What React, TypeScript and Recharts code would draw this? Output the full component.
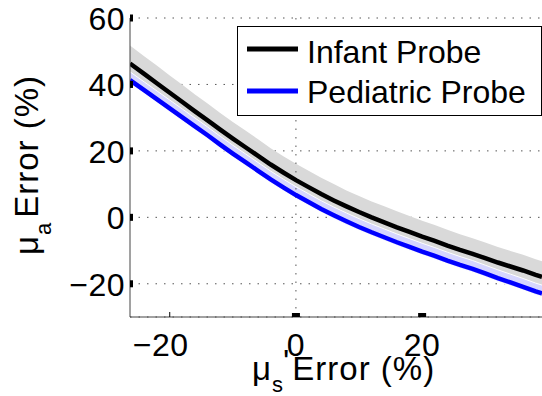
import React from 'react';
import { ComposedChart, Line, Area, XAxis, YAxis, CartesianGrid, Legend, ReferenceLine } from 'recharts';

// μs' error (%) sample positions
const muSError = [
  -26.3, -24, -22, -20, -18, -16, -14, -12, -10, -8, -6, -4, -2, 0, 2, 4, 6, 8,
  10, 12, 14, 16, 18, 20, 22, 24, 26, 28, 30, 32, 34, 36, 38, 39,
];

// μa error (%) for the infant probe: mean and spread
const infantMean = [
  46.3, 43.1, 40.3, 37.5, 34.7, 31.9, 29.2, 26.4, 23.7, 21.1, 18.5, 15.9, 13.5, 11.2, 9.1, 7.0, 5.1, 3.3,
  1.6, 0.0, -1.5, -3.0, -4.4, -5.8, -7.1, -8.5, -9.8, -11.0, -12.3, -13.6, -14.8, -16.0, -17.3, -17.9,
];
const infantHi = [
  51.7, 48.4, 45.6, 42.7, 39.9, 37.0, 34.3, 31.4, 28.7, 26.1, 23.5, 20.8, 18.4, 16.1, 14.0, 11.9, 10.0, 8.1,
  6.4, 4.8, 3.3, 1.8, 0.4, -1.0, -2.3, -3.7, -5.1, -6.3, -7.6, -8.9, -10.1, -11.3, -12.6, -13.2,
];
const infantLo = [
  43.7, 40.5, 37.7, 34.9, 32.1, 29.3, 26.6, 23.8, 21.1, 18.5, 15.9, 13.3, 10.9, 8.6, 6.5, 4.4, 2.5, 0.7,
  -1.0, -2.6, -4.1, -5.6, -7.0, -8.4, -9.7, -11.1, -12.4, -13.6, -14.9, -16.2, -17.4, -18.6, -19.9, -20.5,
];

// μa error (%) for the pediatric probe: mean and spread
const pediatricMean = [
  41.3, 38.2, 35.5, 32.8, 30.1, 27.4, 24.7, 21.9, 19.2, 16.6, 14.0, 11.4, 9.0, 6.7, 4.6, 2.5, 0.6, -1.2,
  -2.9, -4.5, -6.0, -7.5, -8.9, -10.3, -11.6, -13.0, -14.3, -15.5, -16.9, -18.3, -19.6, -20.9, -22.3, -22.9,
];
const pediatricHi = [
  43.8, 40.7, 38.0, 35.3, 32.6, 29.9, 27.2, 24.4, 21.7, 19.1, 16.5, 13.9, 11.5, 9.2, 7.1, 5.0, 3.1, 1.3,
  -0.4, -2.0, -3.5, -5.0, -6.4, -7.8, -9.1, -10.5, -11.8, -13.0, -14.4, -15.8, -17.1, -18.4, -19.8, -20.4,
];
const pediatricLo = [
  40.3, 37.2, 34.5, 31.8, 29.1, 26.4, 23.7, 20.9, 18.2, 15.6, 13.0, 10.4, 8.0, 5.7, 3.6, 1.5, -0.4, -2.2,
  -3.9, -5.5, -7.0, -8.5, -9.9, -11.3, -12.6, -14.0, -15.3, -16.5, -17.9, -19.3, -20.6, -21.9, -23.3, -23.9,
];

const xTicks = [-20, 0, 20];
const yTicks = [-20, 0, 20, 40, 60];

const data = muSError.map((x, i) => ({
  x,
  infant: infantMean[i],
  infantBand: [infantLo[i], infantHi[i]],
  pediatric: pediatricMean[i],
  pediatricBand: [pediatricLo[i], pediatricHi[i]],
}));

const FONT = "'Liberation Sans', Arial, Helvetica, sans-serif";
const textStyle = { fontFamily: FONT, fontSize: 32, letterSpacing: 0.5, fill: '#000' };
const labelStyle = { fontFamily: FONT, fontSize: 33, letterSpacing: 1, fill: '#000' };
const gridDots = { stroke: '#555', strokeDasharray: '1.5 7' };

const fmt = (v: number) => (v < 0 ? `\u2212${Math.abs(v)}` : `${v}`);

const YTick = (props: any) => {
  const { x, y, payload } = props;
  return (
    <g>
      <rect x={x + 5} y={y - 3.5} width={3} height={7} fill="#000" />
      <text x={x} y={y + 12} textAnchor="end" style={textStyle}>
        {fmt(payload.value)}
      </text>
    </g>
  );
};

const XTick = (props: any) => {
  const { x, y, payload } = props;
  const v = payload.value;
  return (
    <g>
      {v < 0 ? (
        <line x1={x} x2={x} y1={y - 5} y2={y} stroke="#000" strokeWidth={1} />
      ) : (
        <rect x={x - 4} y={y - 4} width={8} height={4} fill="#000" />
      )}
      <text x={v < 0 ? x - 9 : x} y={y + 39} textAnchor="middle" style={textStyle}>
        {fmt(v)}
      </text>
    </g>
  );
};

const XLabel = (props: any) => {
  const { viewBox } = props;
  const x0 = viewBox.x + 122;
  const y0 = viewBox.y + 63;
  return (
    <text x={x0} y={y0} style={labelStyle}>
      <tspan>μ</tspan>
      <tspan fontSize={22} dy={12}>s</tspan>
      <tspan dy={-19} dx={-1}>'</tspan>
      <tspan dy={7} dx={2}>Error (%)</tspan>
    </text>
  );
};

const YLabel = (props: any) => {
  const { viewBox } = props;
  const x0 = viewBox.x + 38;
  const y0 = viewBox.y + 237;
  return (
    <text x={x0} y={y0} transform={`rotate(-90 ${x0} ${y0})`} style={labelStyle}>
      <tspan>μ</tspan>
      <tspan fontSize={22} dy={13}>a</tspan>
      <tspan dy={-13} dx={4}>Error (%)</tspan>
    </text>
  );
};

const ProbeLegend = (props: any) => {
  const items = (props.payload || []).filter((p: any) => p.type !== 'none');
  return (
    <svg width={305} height={90} style={{ display: 'block' }}>
      <rect x={0.5} y={0.5} width={304} height={89} fill="#fff" stroke="#000" strokeWidth={1} />
      {items.map((item: any, i: number) => (
        <g key={item.value}>
          <line x1={10} x2={61} y1={23 + i * 42} y2={23 + i * 42} stroke={item.color} strokeWidth={5} />
          <text x={70} y={37 + i * 40} style={{ ...textStyle, letterSpacing: 0 }}>
            {item.value}
          </text>
        </g>
      ))}
    </svg>
  );
};

export default function App() {
  return (
    <div style={{ position: 'absolute', left: 0, top: 0, width: 542, height: 396, background: '#fff' }}>
      <ComposedChart width={542} height={396} data={data} margin={{ top: 18, right: 0, bottom: 0, left: 0 }}>
        <CartesianGrid vertical={false} {...gridDots} />
        <ReferenceLine x={0} {...gridDots} strokeWidth={1} />
        <XAxis
          dataKey="x"
          type="number"
          domain={[-26.3, 39]}
          ticks={xTicks}
          allowDataOverflow
          height={79}
          tickSize={0}
          tickMargin={0}
          tickLine={false}
          axisLine={{ stroke: '#444', strokeWidth: 1 }}
          tick={<XTick />}
          label={<XLabel />}
        />
        <YAxis
          type="number"
          domain={[-30, 60]}
          ticks={yTicks}
          allowDataOverflow
          width={130}
          tickSize={0}
          tickMargin={5}
          tickLine={false}
          axisLine={{ stroke: '#444', strokeWidth: 1 }}
          tick={<YTick />}
          label={<YLabel />}
        />
        <Area
          type="linear"
          dataKey="infantBand"
          stroke="none"
          fill="#d9d9d9"
          fillOpacity={1}
          legendType="none"
          isAnimationActive={false}
        />
        <Area
          type="linear"
          dataKey="pediatricBand"
          stroke="#fff"
          strokeWidth={1}
          fill="#d6d6ff"
          fillOpacity={1}
          legendType="none"
          isAnimationActive={false}
        />
        <Line
          type="linear"
          dataKey="pediatric"
          name="Pediatric Probe"
          stroke="#0000ff"
          strokeWidth={4.5}
          dot={false}
          isAnimationActive={false}
        />
        <Line
          type="linear"
          dataKey="infant"
          name="Infant Probe"
          stroke="#000"
          strokeWidth={4.5}
          dot={false}
          isAnimationActive={false}
        />
        <Legend
          layout="vertical"
          align="center"
          verticalAlign="middle"
          itemSorter={(item: any) => (item.value === 'Infant Probe' ? 0 : 1)}
          content={<ProbeLegend />}
          wrapperStyle={{ position: 'absolute', left: 237, top: 26, width: 305, height: 90 }}
        />
      </ComposedChart>
    </div>
  );
}
